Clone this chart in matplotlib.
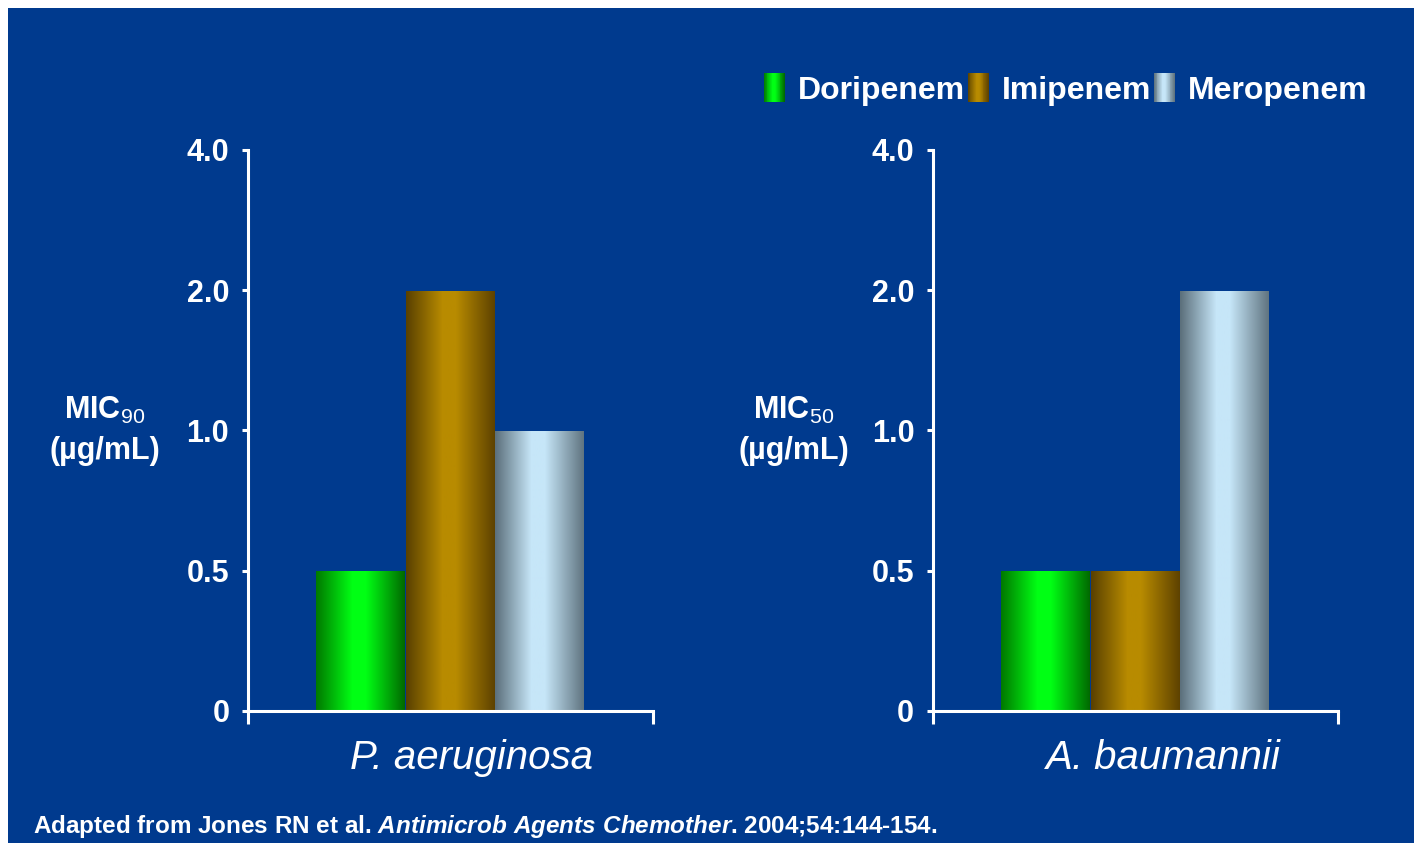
import numpy as np
import matplotlib
matplotlib.use("Agg")
import matplotlib.pyplot as plt
from matplotlib.colors import LinearSegmentedColormap
from matplotlib.patches import Rectangle, Patch
from matplotlib.legend_handler import HandlerBase
from matplotlib import font_manager

# --- data -------------------------------------------------------------
drugs = ["Doripenem", "Imipenem", "Meropenem"]
organisms = ["P. aeruginosa", "A. baumannii"]
mic_pa = [0.5, 2.0, 1.0]      # MIC90, P. aeruginosa
mic_ab = [0.5, 0.5, 2.0]      # MIC50, A. baumannii
ylabels = ["90", "50"]
yticks = [0, 0.5, 1.0, 2.0, 4.0]
ytick_labels = ["0", "0.5", "1.0", "2.0", "4.0"]
source = "Adapted from Jones RN et al. "
journal = "Antimicrob Agents Chemother"
citation = ". 2004;54:144-154."

BG = "#003a8e"
WHITE = "white"

# cylinder-like shading, left edge -> highlight -> right edge
shades = {
    "Doripenem": ["#007a00", "#00ff14", "#00ff14", "#006400"],
    "Imipenem": ["#5a4100", "#b88b00", "#b88b00", "#5a3f00"],
    "Meropenem": ["#5c707c", "#c6e6f8", "#c6e6f8", "#5c707c"],
}
cmaps = {k: LinearSegmentedColormap.from_list(k, list(zip([0, 0.4, 0.55, 1], v)))
         for k, v in shades.items()}

names = {f.name for f in font_manager.fontManager.ttflist}
SANS = "Liberation Sans" if "Liberation Sans" in names else "DejaVu Sans"
NARROW = "Liberation Sans Narrow" if "Liberation Sans Narrow" in names else SANS

plt.rcParams["font.family"] = SANS
plt.rcParams["mathtext.fontset"] = "custom"
plt.rcParams["mathtext.rm"] = SANS
plt.rcParams["mathtext.it"] = NARROW + ":italic:bold"
plt.rcParams["mathtext.bf"] = SANS + ":bold"


# y positions: 0 -> 0, 0.5 -> 1, then one step per doubling
def fwd(v):
    v = np.asarray(v, dtype=float)
    return np.where(v <= 0.5, 2 * v, np.log2(np.maximum(v, 0.5)) + 2)


def inv(p):
    p = np.asarray(p, dtype=float)
    return np.where(p <= 1, p / 2, 2 ** (np.clip(p, 1, 60) - 2))


class GradientHandler(HandlerBase):
    def __init__(self, cmap, n=24):
        super().__init__()
        self.cmap = cmap
        self.n = n

    def create_artists(self, legend, orig_handle, xdescent, ydescent,
                       width, height, fontsize, trans):
        arts = []
        for k in range(self.n):
            c = self.cmap((k + 0.5) / self.n)
            arts.append(Rectangle((-xdescent + k * width / self.n, -ydescent - 0.15 * height),
                                  width / self.n, height * 1.3, facecolor=c,
                                  edgecolor="none", antialiased=False, transform=trans))
        return arts


fig = plt.figure(figsize=(14.17, 8.49), dpi=100)
fig.patch.set_facecolor("white")
fig.add_artist(Rectangle((8 / 1417, 6 / 849), 1406 / 1417, 835 / 849,
                         transform=fig.transFigure, facecolor=BG, edgecolor="none", zorder=-10))

panels = [(mic_pa, 248, organisms[0], ylabels[0], 105, 0.553),
          (mic_ab, 933, organisms[1], ylabels[1], 794, 0.568)]

bar_w = 0.222
grad = np.linspace(0, 1, 256).reshape(1, -1)
for values, left_px, org, sub, ylab_x, org_x in panels:
    ax = fig.add_axes([left_px / 1417, 1 - 711 / 849, 405 / 1417, 561 / 849])
    ax.set_facecolor("none")
    ax.set_yscale("function", functions=(fwd, inv))

    xs = (np.arange(len(drugs)) - (len(drugs) - 1) / 2) * bar_w
    bars = ax.bar(xs, values, width=bar_w, color="none", linewidth=0, zorder=2)
    # fill each bar with its horizontal shading, clipped to the bar shape
    for bar, drug in zip(bars, drugs):
        x0 = bar.get_x()
        im = ax.imshow(grad, extent=(x0, x0 + bar.get_width(), 0, 1),
                       transform=ax.get_xaxis_transform(), aspect="auto",
                       cmap=cmaps[drug], interpolation="bilinear", zorder=2)
        im.set_clip_path(bar)

    ax.set_ylim(0, 4)
    ax.set_xlim(-0.5, 0.5)

    for s in ["top", "right"]:
        ax.spines[s].set_visible(False)
    for s in ["left", "bottom"]:
        ax.spines[s].set_color(WHITE)
        ax.spines[s].set_linewidth(2.2)
        ax.spines[s].set_zorder(3)

    ax.set_yticks(yticks)
    ax.set_yticklabels(ytick_labels)
    ax.yaxis.set_minor_locator(plt.NullLocator())
    ax.tick_params(axis="y", colors=WHITE, direction="out", length=4.5, width=2.2,
                   labelsize=22, pad=9)
    for lab in ax.get_yticklabels():
        lab.set_fontweight("bold")
    ax.set_xticks([-0.5, 0.5])
    ax.set_xticklabels(["", ""])
    ax.tick_params(axis="x", colors=WHITE, direction="out", length=9, width=2.2)

    ax.text(org_x, -0.084, org, transform=ax.transAxes, ha="center", va="center",
            color=WHITE, fontsize=29, style="italic")

    fig.text(ylab_x / 1417, 1 - 410 / 849, "MIC$_{%s}$" % sub, ha="center", va="center",
             color=WHITE, fontsize=22, fontweight="bold")
    fig.text(ylab_x / 1417, 1 - 451 / 849, "(µg/mL)", ha="center", va="center",
             color=WHITE, fontsize=22, fontweight="bold")

handles = [Patch(label=d) for d in drugs]
fig.legend(handles=handles, loc="center left", bbox_to_anchor=(764 / 1417, 1 - 91 / 849),
           frameon=False, ncol=3, prop={"weight": "bold", "size": 23},
           labelcolor=WHITE, handlelength=0.65, handleheight=0.7, handletextpad=0.4,
           columnspacing=0.1, borderpad=0, borderaxespad=0,
           handler_map={h: GradientHandler(cmaps[d]) for h, d in zip(handles, drugs)})

fig.text(33 / 1417, 1 - 827 / 849,
         source + r"$\mathit{" + journal.replace(" ", r"\ ") + "}$" + citation,
         ha="left", va="center", color=WHITE, fontsize=17.5, fontweight="bold",
         family=NARROW)

fig.savefig("out.png", dpi=100, facecolor=fig.get_facecolor())
